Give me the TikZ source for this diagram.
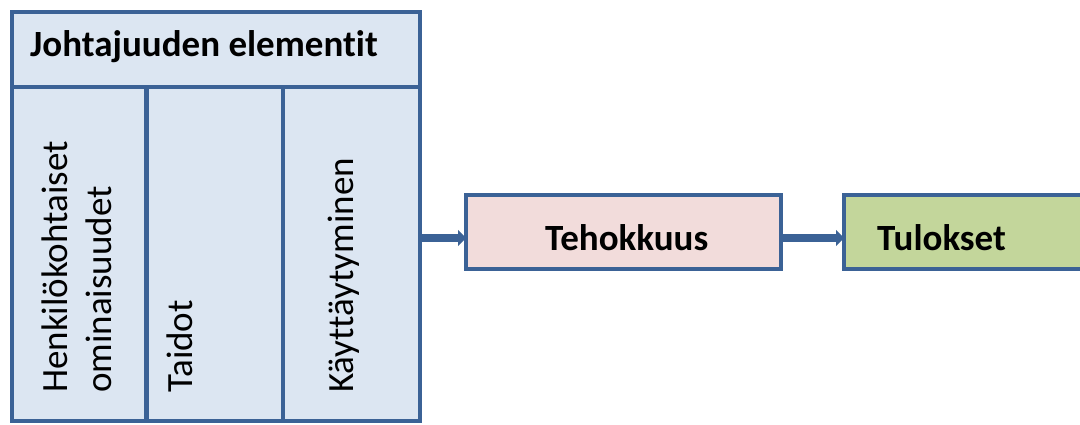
\documentclass[tikz,border=0pt]{standalone}
\usepackage{fontspec}
\setmainfont[RawFeature={-liga;-clig;-calt;-dlig}]{Carlito}
\usetikzlibrary{arrows.meta}
\definecolor{bord}{HTML}{3B6296}
\definecolor{blfill}{HTML}{DCE6F2}
\definecolor{rdfill}{HTML}{F2DCDB}
\definecolor{grfill}{HTML}{C3D69B}
\tikzset{
  cell/.style={draw=bord, line width=4.2pt, fill=blfill, inner sep=0pt, outer sep=0pt, rectangle},
  res/.style={draw=bord, line width=4.2pt, inner sep=0pt, outer sep=0pt, rectangle},
  lbl/.style={inner sep=0pt, anchor=base west, font=\fontsize{37}{44}\selectfont\bfseries},
  vlbl/.style={inner sep=0pt, rotate=90, anchor=base west, font=\fontsize{37}{44}\selectfont},
  arr/.style={draw=bord, line width=8pt, -{Triangle[length=8pt,width=16pt]}}
}
\begin{document}
\begin{tikzpicture}[x=1pt,y=-1pt]
\useasboundingbox (0,0) rectangle (1080,424);
% table
\node[cell, minimum width=408pt, minimum height=75pt] (header) at (216,49.5) {};
\node[cell, minimum width=134.5pt, minimum height=334pt] (col1) at (79.25,254) {};
\node[cell, minimum width=136.5pt, minimum height=334pt] (col2) at (214.75,254) {};
\node[cell, minimum width=137pt, minimum height=334pt] (col3) at (351.5,254) {};
\node[lbl] (title) at (30,56) {Johtajuuden elementit};
\node[vlbl] (hk1) at (67,393) {Henkilökohtaiset};
\node[vlbl] (hk2) at (111,393) {ominaisuudet};
\node[vlbl] (taid) at (192,393) {Taidot};
\node[vlbl] (kay) at (353,393) {Käyttäytyminen};
% result boxes
\node[res, fill=rdfill, minimum width=315pt, minimum height=74pt] (teh) at (623.5,232) {};
\node[lbl] (tehl) at (545,250) {Tehokkuus};
\node[res, fill=grfill, minimum width=319pt, minimum height=74pt] (tul) at (1003.5,232) {};
\node[lbl] (tull) at (877,250) {Tulokset};
% arrows
\coordinate (ay1) at ([yshift=-6pt]teh.west);
\coordinate (ay2) at ([yshift=-6pt]tul.west);
\draw[arr] (ay1 -| col3.east) -- (ay1);
\draw[arr] (ay2 -| teh.east) -- (ay2);
\end{tikzpicture}
\end{document}
